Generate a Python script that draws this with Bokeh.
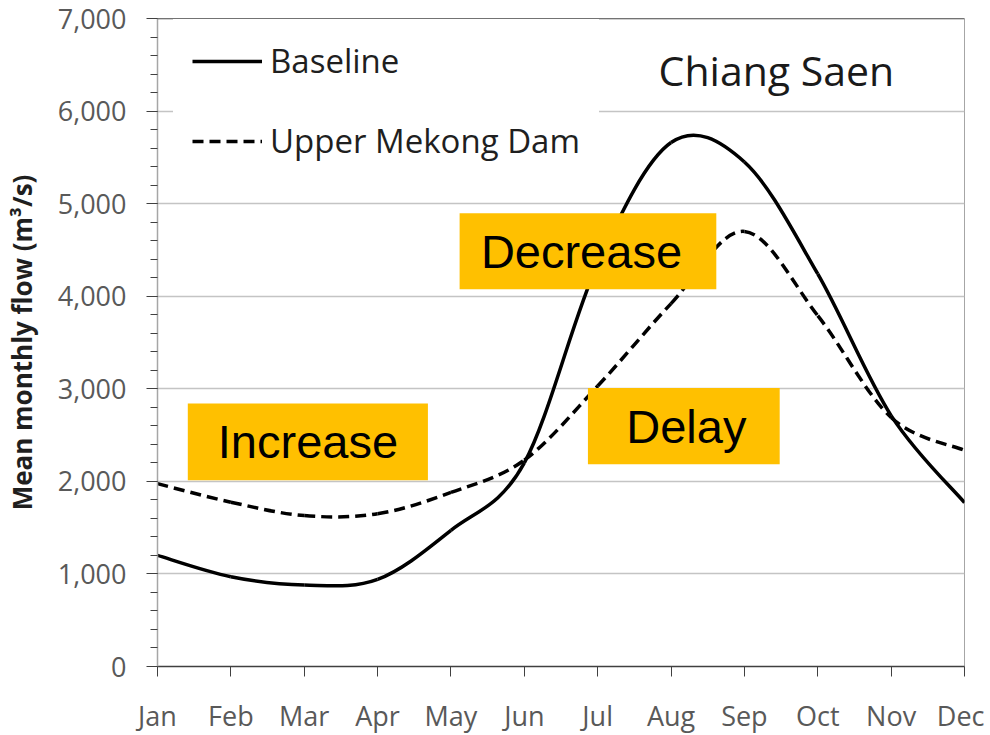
import numpy as np
from bokeh.plotting import figure
from bokeh.models import (Range1d, FixedTicker, SingleIntervalTicker, NumeralTickFormatter,
                          Legend, LegendItem, Span, ColumnDataSource)
from bokeh.core.properties import value
from bokeh.embed import file_html
from bokeh.resources import INLINE

# ---------------- data ----------------
months = ["Jan", "Feb", "Mar", "Apr", "May", "Jun", "Jul", "Aug", "Sep", "Oct", "Nov", "Dec"]
baseline = [1200, 970, 880, 940, 1470, 2200, 4350, 5660, 5450, 4240, 2710, 1770]
upper_mekong_dam = [1975, 1775, 1630, 1650, 1880, 2230, 3030, 3920, 4700, 3790, 2690, 2335]

ann_labels = ["Increase", "Decrease", "Delay"]
ann_left = [0.413, 4.118, 5.867]
ann_right = [3.686, 7.617, 8.481]
ann_bottom = [2012, 4075, 2186]
ann_top = [2841, 4897, 3009]
ann_text_x = [0.822, 4.408, 6.389]

station = "Chiang Saen"
station_x = 6.83
station_y = 6442
y_label = "Mean monthly flow (m³/s)"


def smooth_segments(vals):
    """Bezier control points (Catmull-Rom style, like a spreadsheet's smoothed line)."""
    n = len(vals)
    x = np.arange(n, dtype=float)
    y = np.asarray(vals, dtype=float)
    xp = np.concatenate([[x[0]], x, [x[-1]]])
    yp = np.concatenate([[y[0]], y, [y[-1]]])
    return dict(
        x0=x[:-1], y0=y[:-1], x1=x[1:], y1=y[1:],
        cx0=x[:-1] + (xp[2:n + 1] - xp[0:n - 1]) / 6.0,
        cy0=y[:-1] + (yp[2:n + 1] - yp[0:n - 1]) / 6.0,
        cx1=x[1:] - (xp[3:n + 2] - xp[1:n]) / 6.0,
        cy1=y[1:] - (yp[3:n + 2] - yp[1:n]) / 6.0,
    )


p = figure(frame_width=807, frame_height=648, width=982, height=733,
           min_border_left=155, min_border_right=20, min_border_top=18, min_border_bottom=67,
           x_range=Range1d(0, 11), y_range=Range1d(0, 7000),
           output_backend="svg", toolbar_location=None, background_fill_color="white",
           border_fill_color="white")

p.outline_line_color = "#A6A6A6"
p.xgrid.visible = False
p.ygrid.grid_line_color = "#C4C4C4"
p.ygrid.grid_line_width = 1.3

# y axis
p.yaxis.ticker = SingleIntervalTicker(interval=1000, num_minor_ticks=5)
p.yaxis.formatter = NumeralTickFormatter(format="0,0")
p.yaxis.major_label_text_font = "Open Sans"
p.yaxis.major_label_text_font_size = "27px"
p.yaxis.major_label_text_color = "#595959"
p.yaxis.major_label_standoff = 20
p.yaxis.axis_line_color = "#A6A6A6"
p.yaxis.axis_line_width = 1.5
p.yaxis.major_tick_line_color = "#404040"
p.yaxis.major_tick_out = 11
p.yaxis.major_tick_in = 0
p.yaxis.minor_tick_line_color = "#404040"
p.yaxis.minor_tick_out = 7
p.yaxis.minor_tick_in = 0
p.yaxis.axis_label = y_label
p.yaxis.axis_label_text_font = "Open Sans"
p.yaxis.axis_label_text_font_style = "bold"
p.yaxis.axis_label_text_font_size = "26px"
p.yaxis.axis_label_text_color = "#1F1F1F"
p.yaxis.axis_label_standoff = 15

# x axis
p.xaxis.ticker = FixedTicker(ticks=list(range(len(months))))
p.xaxis.major_label_overrides = {i: m for i, m in enumerate(months)}
p.xaxis.major_label_text_font = "Open Sans"
p.xaxis.major_label_text_font_size = "27px"
p.xaxis.major_label_text_color = "#595959"
p.xaxis.major_label_standoff = 20
p.xaxis.axis_line_color = "#404040"
p.xaxis.axis_line_width = 1.5
p.xaxis.major_tick_line_color = "#404040"
p.xaxis.major_tick_out = 10
p.xaxis.major_tick_in = 0
p.xaxis.minor_tick_line_color = None

p.add_layout(Span(location=7000, dimension="width", line_color="#404040", line_width=1.5))

# curves
src_b = ColumnDataSource(smooth_segments(baseline))
src_d = ColumnDataSource(smooth_segments(upper_mekong_dam))
r_b = p.bezier(x0="x0", y0="y0", x1="x1", y1="y1", cx0="cx0", cy0="cy0", cx1="cx1", cy1="cy1",
               source=src_b, line_color="black", line_width=3.5)
r_d = p.bezier(x0="x0", y0="y0", x1="x1", y1="y1", cx0="cx0", cy0="cy0", cx1="cx1", cy1="cy1",
               source=src_d, line_color="black", line_width=3.5, line_dash="11 6")

legend = Legend(items=[LegendItem(label="Baseline", renderers=[r_b]),
                       LegendItem(label="Upper Mekong Dam", renderers=[r_d])],
                location=(16, 484), padding=18, glyph_width=70, glyph_height=44,
                label_height=44, label_standoff=8, spacing=35,
                label_text_font="Open Sans", label_text_font_size="33px",
                label_text_color="#1F1F1F", border_line_color="white", border_line_width=1,
                background_fill_color="white", background_fill_alpha=1.0)
p.add_layout(legend)

# annotation boxes
ann_mid = [(b + t) / 2 for b, t in zip(ann_bottom, ann_top)]
ann_src = ColumnDataSource(dict(left=ann_left, right=ann_right, bottom=ann_bottom, top=ann_top,
                                tx=ann_text_x, ty=ann_mid, label=ann_labels))
p.quad(left="left", right="right", bottom="bottom", top="top", source=ann_src,
       fill_color="#FFC000", line_color=None)
p.text(x="tx", y="ty", text="label", source=ann_src, text_font=value("Liberation Sans"),
       text_font_size="47px", text_color="black", text_baseline="middle", text_align="left")

# station name
p.text(x=[station_x], y=[station_y], text=[station], text_font=value("Open Sans"),
       text_font_size="41px", text_color="#1A1A1A", text_baseline="middle", text_align="left")

open("out.html", "w").write(file_html(p, INLINE))
